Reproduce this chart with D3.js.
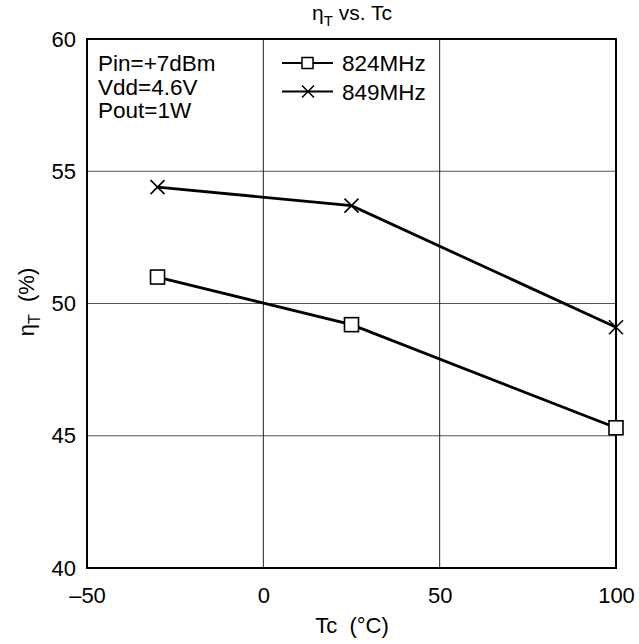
<!DOCTYPE html>
<html>
<head>
<meta charset="utf-8">
<script src="https://cdn.jsdelivr.net/npm/d3@7"></script>
<style>
  html, body { margin: 0; padding: 0; background: #fff; }
  svg { display: block; font-family: "Liberation Sans", Arial, sans-serif; }
</style>
</head>
<body>
<svg id="chart" width="639" height="644"></svg>
<script>
const temps = [-30, 25, 100];
const eff824 = [51.0, 49.2, 45.3];
const eff849 = [54.4, 53.7, 49.1];
const xTicks = [-50, 0, 50, 100];
const yTicks = [40, 45, 50, 55, 60];
const seriesNames = ["824MHz", "849MHz"];
const conditions = ["Pin=+7dBm", "Vdd=4.6V", "Pout=1W"];

const svg = d3.select("#chart");
const m = { left: 87, right: 616, top: 39, bottom: 568 };
const x = d3.scaleLinear().domain([-50, 100]).range([m.left, m.right]);
const y = d3.scaleLinear().domain([40, 60]).range([m.bottom, m.top]);

// grid
svg.append("g").selectAll("line").data(yTicks.filter(d => d > 40 && d < 60)).join("line")
  .attr("x1", m.left).attr("x2", m.right)
  .attr("y1", d => y(d)).attr("y2", d => y(d))
  .attr("stroke", "#555").attr("stroke-width", 1);
svg.append("g").selectAll("line").data(xTicks.filter(d => d > -50 && d < 100)).join("line")
  .attr("y1", m.top).attr("y2", m.bottom)
  .attr("x1", d => x(d)).attr("x2", d => x(d))
  .attr("stroke", "#222").attr("stroke-width", 1);

// frame
svg.append("rect").attr("x", m.left).attr("y", m.top)
  .attr("width", m.right - m.left).attr("height", m.bottom - m.top)
  .attr("fill", "none").attr("stroke", "#000").attr("stroke-width", 2);

// axes (labels only)
const xAxis = svg.append("g").attr("transform", `translate(0,${m.bottom})`)
  .call(d3.axisBottom(x).tickValues(xTicks).tickSize(0).tickPadding(19)
    .tickFormat(d => d < 0 ? "\u2013" + Math.abs(d) : d));
xAxis.select(".domain").remove();
xAxis.selectAll("text").attr("font-size", 22).attr("fill", "#000")
  .attr("font-family", "Liberation Sans, Arial, sans-serif");

const yAxis = svg.append("g").attr("transform", `translate(${m.left},0)`)
  .call(d3.axisLeft(y).tickValues(yTicks).tickSize(0).tickPadding(11));
yAxis.select(".domain").remove();
yAxis.selectAll("text").attr("font-size", 22).attr("fill", "#000")
  .attr("font-family", "Liberation Sans, Arial, sans-serif");

// series
const line = d3.line().x(d => x(d[0])).y(d => y(d[1]));
const data824 = temps.map((t, i) => [t, eff824[i]]);
const data849 = temps.map((t, i) => [t, eff849[i]]);

[data824, data849].forEach(ds => {
  svg.append("path").attr("d", line(ds)).attr("fill", "none")
    .attr("stroke", "#000").attr("stroke-width", 2.8);
});

function square(g, cx, cy) {
  g.append("rect").attr("x", cx - 7).attr("y", cy - 7).attr("width", 14).attr("height", 14)
    .attr("fill", "#fff").attr("stroke", "#000").attr("stroke-width", 1.6);
}
function cross(g, cx, cy) {
  const s = 7;
  g.append("path").attr("d", `M${cx - s},${cy - s}L${cx + s},${cy + s}M${cx - s},${cy + s}L${cx + s},${cy - s}`)
    .attr("stroke", "#000").attr("stroke-width", 1.6).attr("fill", "none");
}
const mk = svg.append("g");
data824.forEach(d => square(mk, x(d[0]), y(d[1])));
data849.forEach(d => cross(mk, x(d[0]), y(d[1])));

// title
const title = svg.append("text").attr("x", 352).attr("y", 20).attr("text-anchor", "middle")
  .attr("font-size", 21);
title.append("tspan").text("\u03B7");
title.append("tspan").attr("font-size", 15).attr("dy", 6).text("T");
title.append("tspan").attr("dy", -6).text(" vs. Tc");

// x label
svg.append("text").attr("x", 352).attr("y", 633).attr("text-anchor", "middle")
  .attr("font-size", 22).attr("xml:space", "preserve").text("Tc  (\u00B0C)");

// y label
const yl = svg.append("text").attr("transform", "translate(34,302) rotate(-90)")
  .attr("text-anchor", "middle").attr("font-size", 22).attr("xml:space", "preserve");
yl.append("tspan").text("\u03B7");
yl.append("tspan").attr("font-size", 16).attr("dy", 6).text("T");
yl.append("tspan").attr("dy", -6).text("  (%)");

// conditions
svg.append("g").selectAll("text").data(conditions).join("text")
  .attr("x", 98).attr("y", (d, i) => 71 + i * 23.5)
  .attr("font-size", 22.5).text(d => d);

// legend
const lg = svg.append("g");
seriesNames.forEach((name, i) => {
  const ly = 63 + i * 28.5;
  lg.append("line").attr("x1", 282).attr("x2", 333).attr("y1", ly).attr("y2", ly)
    .attr("stroke", "#000").attr("stroke-width", 2.2);
  if (i === 0) {
    lg.append("rect").attr("x", 302).attr("y", ly - 5.5).attr("width", 11).attr("height", 11)
      .attr("fill", "#fff").attr("stroke", "#000").attr("stroke-width", 1.5);
  } else {
    lg.append("path").attr("d", `M${302},${ly - 6}L${314},${ly + 6}M${302},${ly + 6}L${314},${ly - 6}`)
      .attr("stroke", "#000").attr("stroke-width", 1.5);
  }
  lg.append("text").attr("x", 342).attr("y", ly + 8).attr("font-size", 22.5).text(name);
});
</script>
</body>
</html>
